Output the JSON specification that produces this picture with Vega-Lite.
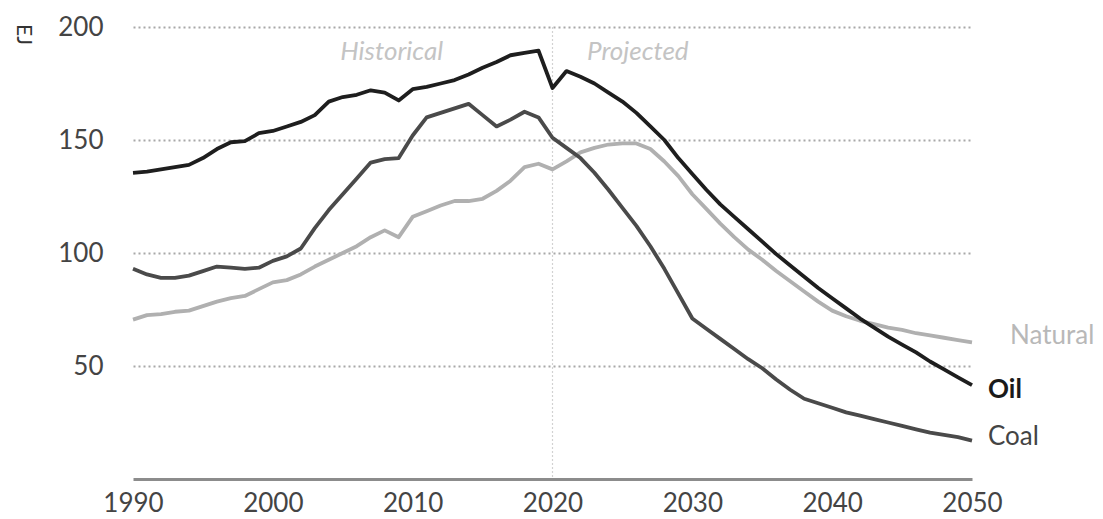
{
  "$schema": "https://vega.github.io/schema/vega-lite/v6.json",
  "autosize": "none",
  "width": 839,
  "height": 452,
  "padding": {"left": 133, "top": 27, "right": 131, "bottom": 40},
  "background": "white",
  "config": {
    "view": {"stroke": null},
    "font": "Lato",
    "axis": {"labelFont": "Lato", "titleFont": "Lato"}
  },
  "datasets": {
    "energy": [
      {"year": 1990, "Oil": 135.5, "Coal": 93, "Natural": 70.5},
      {"year": 1991, "Oil": 136, "Coal": 90.5, "Natural": 72.5},
      {"year": 1992, "Oil": 137, "Coal": 89, "Natural": 73},
      {"year": 1993, "Oil": 138, "Coal": 89, "Natural": 74},
      {"year": 1994, "Oil": 139, "Coal": 90, "Natural": 74.5},
      {"year": 1995, "Oil": 142, "Coal": 92, "Natural": 76.5},
      {"year": 1996, "Oil": 146, "Coal": 94, "Natural": 78.5},
      {"year": 1997, "Oil": 149, "Coal": 93.5, "Natural": 80},
      {"year": 1998, "Oil": 149.5, "Coal": 93, "Natural": 81},
      {"year": 1999, "Oil": 153, "Coal": 93.5, "Natural": 84},
      {"year": 2000, "Oil": 154, "Coal": 96.5, "Natural": 87},
      {"year": 2001, "Oil": 156, "Coal": 98.5, "Natural": 88},
      {"year": 2002, "Oil": 158, "Coal": 102, "Natural": 90.5},
      {"year": 2003, "Oil": 161, "Coal": 111, "Natural": 94},
      {"year": 2004, "Oil": 167, "Coal": 119, "Natural": 97},
      {"year": 2005, "Oil": 169, "Coal": 126, "Natural": 100},
      {"year": 2006, "Oil": 170, "Coal": 133, "Natural": 103},
      {"year": 2007, "Oil": 172, "Coal": 140, "Natural": 107},
      {"year": 2008, "Oil": 171, "Coal": 141.5, "Natural": 110},
      {"year": 2009, "Oil": 167.5, "Coal": 142, "Natural": 107},
      {"year": 2010, "Oil": 172.5, "Coal": 152, "Natural": 116},
      {"year": 2011, "Oil": 173.5, "Coal": 160, "Natural": 118.5},
      {"year": 2012, "Oil": 175, "Coal": 162, "Natural": 121},
      {"year": 2013, "Oil": 176.5, "Coal": 164, "Natural": 123},
      {"year": 2014, "Oil": 179, "Coal": 166, "Natural": 123},
      {"year": 2015, "Oil": 182, "Coal": 161, "Natural": 124},
      {"year": 2016, "Oil": 184.5, "Coal": 156, "Natural": 127.5},
      {"year": 2017, "Oil": 187.5, "Coal": 159, "Natural": 132},
      {"year": 2018, "Oil": 188.5, "Coal": 162.5, "Natural": 138},
      {"year": 2019, "Oil": 189.5, "Coal": 160, "Natural": 139.5},
      {"year": 2020, "Oil": 173, "Coal": 151, "Natural": 137},
      {"year": 2021, "Oil": 180.5, "Coal": 146.5, "Natural": 140.5},
      {"year": 2022, "Oil": 178, "Coal": 142, "Natural": 144.5},
      {"year": 2023, "Oil": 175, "Coal": 135.5, "Natural": 146.5},
      {"year": 2024, "Oil": 171, "Coal": 128, "Natural": 148},
      {"year": 2025, "Oil": 167, "Coal": 120, "Natural": 148.5},
      {"year": 2026, "Oil": 162, "Coal": 112, "Natural": 148.5},
      {"year": 2027, "Oil": 156, "Coal": 103, "Natural": 146},
      {"year": 2028, "Oil": 150, "Coal": 93, "Natural": 140.5},
      {"year": 2029, "Oil": 142, "Coal": 82, "Natural": 134},
      {"year": 2030, "Oil": 135, "Coal": 71, "Natural": 126},
      {"year": 2031, "Oil": 128, "Coal": 66.5, "Natural": 119.5},
      {"year": 2032, "Oil": 121.5, "Coal": 62, "Natural": 113},
      {"year": 2033, "Oil": 116, "Coal": 57.5, "Natural": 107},
      {"year": 2034, "Oil": 110.5, "Coal": 53, "Natural": 101.5},
      {"year": 2035, "Oil": 105, "Coal": 49, "Natural": 97},
      {"year": 2036, "Oil": 99.5, "Coal": 44, "Natural": 92},
      {"year": 2037, "Oil": 94.5, "Coal": 39.5, "Natural": 87.5},
      {"year": 2038, "Oil": 89.5, "Coal": 35.5, "Natural": 83},
      {"year": 2039, "Oil": 84.5, "Coal": 33.5, "Natural": 78.5},
      {"year": 2040, "Oil": 80, "Coal": 31.5, "Natural": 74.5},
      {"year": 2041, "Oil": 75.5, "Coal": 29.5, "Natural": 72},
      {"year": 2042, "Oil": 71, "Coal": 28, "Natural": 70},
      {"year": 2043, "Oil": 67, "Coal": 26.5, "Natural": 68.5},
      {"year": 2044, "Oil": 63, "Coal": 25, "Natural": 67},
      {"year": 2045, "Oil": 59.5, "Coal": 23.5, "Natural": 66},
      {"year": 2046, "Oil": 56, "Coal": 22, "Natural": 64.5},
      {"year": 2047, "Oil": 52, "Coal": 20.5, "Natural": 63.5},
      {"year": 2048, "Oil": 48.5, "Coal": 19.5, "Natural": 62.5},
      {"year": 2049, "Oil": 45, "Coal": 18.5, "Natural": 61.5},
      {"year": 2050, "Oil": 41.5, "Coal": 17, "Natural": 60.5}
    ],
    "periods": [
      {"label": "Historical", "year": 2008.5, "value": 185.4},
      {"label": "Projected", "year": 2026.1, "value": 185.4}
    ]
  },
  "layer": [
    {
      "data": {"values": [{"year": 2020}]},
      "mark": {"type": "rule", "color": "#d2d2d2", "strokeWidth": 1.2, "strokeDash": [2, 2]},
      "encoding": {"x": {"field": "year", "type": "quantitative", "scale": {"domain": [1990, 2050]}}}
    },
    {
      "data": {"name": "energy"},
      "transform": [{"fold": ["Natural", "Coal", "Oil"], "as": ["fuel", "value"]}],
      "mark": {"type": "line", "strokeWidth": 3.8, "strokeJoin": "round", "strokeCap": "butt"},
      "encoding": {
        "x": {
          "field": "year", "type": "quantitative",
          "scale": {"domain": [1990, 2050], "nice": false, "zero": false},
          "axis": {
            "values": [1990, 2000, 2010, 2020, 2030, 2040, 2050],
            "format": "d", "title": null, "grid": false, "ticks": false,
            "domain": true, "domainColor": "#8c8c8c", "domainWidth": 3,
            "labelFontSize": 26, "labelColor": "#444444", "labelPadding": 11,
            "labelFlush": false, "labelOverlap": false
          }
        },
        "y": {
          "field": "value", "type": "quantitative",
          "scale": {"domain": [0, 200], "nice": false},
          "axis": {
            "values": [50, 100, 150, 200],
            "title": "EJ", "titleAngle": 90, "titleX": -111, "titleY": 7,
            "titleAlign": "center", "titleBaseline": "middle",
            "titleFontSize": 21, "titleFontWeight": "normal", "titleColor": "#333333",
            "grid": true, "gridColor": "#a8a8a8", "gridWidth": 2, "gridDash": [2, 3],
            "domain": false, "ticks": false,
            "labelFontSize": 26, "labelColor": "#444444", "labelPadding": 30
          }
        },
        "color": {
          "field": "fuel", "type": "nominal",
          "scale": {"domain": ["Natural", "Coal", "Oil"], "range": ["#b0b0b0", "#4a4a4a", "#1e1e1e"]},
          "legend": null
        },
        "order": {"field": "year"}
      }
    },
    {
      "data": {"name": "periods"},
      "mark": {"type": "text", "fontStyle": "italic", "fontSize": 26, "color": "#c4c4c4", "align": "center", "baseline": "alphabetic"},
      "encoding": {
        "x": {"field": "year", "type": "quantitative"},
        "y": {"field": "value", "type": "quantitative"},
        "text": {"field": "label"}
      }
    },
    {
      "data": {"name": "energy"},
      "transform": [{"filter": "datum.year == 2050"}],
      "mark": {"type": "text", "align": "left", "baseline": "middle", "dx": 38, "dy": -6, "fontSize": 26, "color": "#b8b8b8"},
      "encoding": {
        "x": {"field": "year", "type": "quantitative"},
        "y": {"field": "Natural", "type": "quantitative"},
        "text": {"value": "Natural"}
      }
    },
    {
      "data": {"name": "energy"},
      "transform": [{"filter": "datum.year == 2050"}],
      "mark": {"type": "text", "align": "left", "baseline": "middle", "dx": 16, "dy": 5, "fontSize": 26, "fontWeight": "bold", "color": "#1a1a1a"},
      "encoding": {
        "x": {"field": "year", "type": "quantitative"},
        "y": {"field": "Oil", "type": "quantitative"},
        "text": {"value": "Oil"}
      }
    },
    {
      "data": {"name": "energy"},
      "transform": [{"filter": "datum.year == 2050"}],
      "mark": {"type": "text", "align": "left", "baseline": "middle", "dx": 16, "dy": -4, "fontSize": 26, "color": "#444444"},
      "encoding": {
        "x": {"field": "year", "type": "quantitative"},
        "y": {"field": "Coal", "type": "quantitative"},
        "text": {"value": "Coal"}
      }
    }
  ]
}
